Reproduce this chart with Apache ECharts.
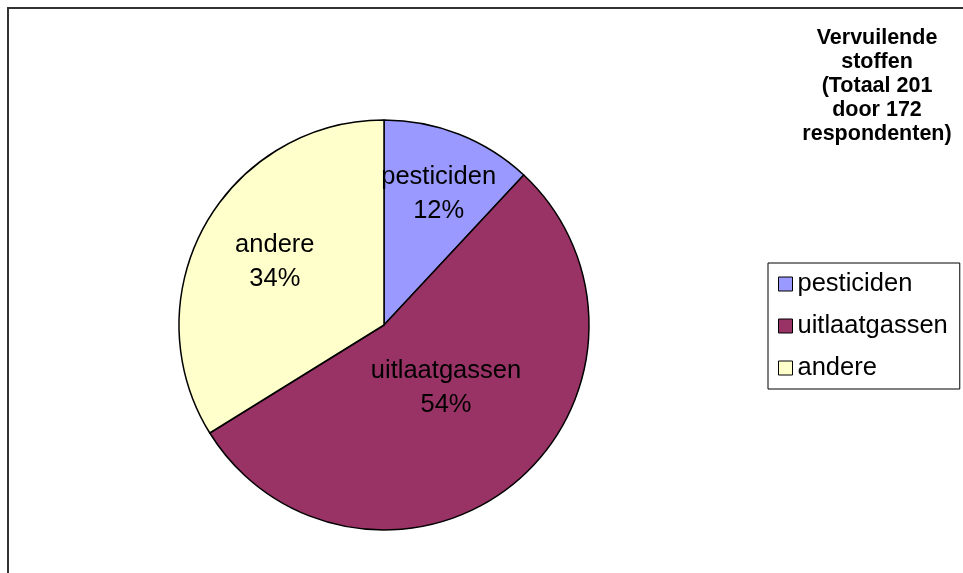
<!DOCTYPE html>
<html>
<head>
<meta charset="utf-8">
<script src="https://cdn.jsdelivr.net/npm/echarts@6/dist/echarts.min.js"></script>
<style>
  body { margin: 0; background: #fff; }
  #chart { width: 963px; height: 573px; }
</style>
</head>
<body>
<div id="chart"></div>
<script>
    // Vervuilende stoffen, totaal 201 antwoorden
    var categories = ['pesticiden', 'uitlaatgassen', 'andere'];
    var counts = [24, 109, 68];
    var colors = ['#9999FF', '#993366', '#FFFFCC'];
    var titleLines = ['Vervuilende', 'stoffen', '(Totaal 201', 'door 172', 'respondenten)'];

    // label verschuiving t.o.v. midden van de sector (Excel "best fit")
    var labelShift = [[16, -33], [-5, -19], [-17, -12]];

    var chart = echarts.init(document.getElementById('chart'));

    var pieData = categories.map(function (name, i) {
        return { name: name, value: counts[i], itemStyle: { color: colors[i] } };
    });

    var option = {
        animation: false,
        backgroundColor: '#fff',
        title: {
            text: titleLines.join('\n'),
            left: 872,
            top: 21,
            textAlign: 'center',
            textStyle: {
                fontFamily: 'Liberation Sans',
                fontWeight: 'bold',
                fontSize: 21.5,
                lineHeight: 24,
                color: '#000'
            }
        },
        legend: {
            orient: 'vertical',
            left: 768,
            top: 263,
            padding: [8, 12, 8, 10],
            itemGap: 16,
            itemWidth: 14,
            itemHeight: 14,
            itemTextGap: 10,
            icon: 'rect',
            borderColor: '#000',
            borderWidth: 1,
            itemStyle: {
                borderColor: '#000',
                borderWidth: 1
            },
            textStyle: {
                fontFamily: 'Liberation Sans',
                fontSize: 25.5,
                lineHeight: 26,
                color: '#000'
            },
            data: categories
        },
        graphic: [{
            type: 'rect',
            shape: { x: 8, y: 8, width: 1000, height: 1000 },
            style: { fill: 'none', stroke: '#333', lineWidth: 2 },
            z: -1
        }],
        series: [{
            name: 'Vervuilende stoffen',
            type: 'pie',
            center: [384, 325],
            radius: 205,
            startAngle: 90,
            clockwise: true,
            itemStyle: {
                borderColor: '#000',
                borderWidth: 1.5
            },
            label: {
                show: true,
                position: 'inside',
                formatter: function (p) {
                    return p.name + '\n' + Math.round(p.percent) + '%';
                },
                fontFamily: 'Liberation Sans',
                fontSize: 25.5,
                lineHeight: 34,
                color: '#000'
            },
            labelLine: { show: false },
            labelLayout: function (params) {
                var s = labelShift[params.dataIndex];
                return { dx: s[0], dy: s[1] };
            },
            emphasis: { disabled: true },
            data: pieData
        }]
    };

    chart.setOption(option);
</script>
</body>
</html>
